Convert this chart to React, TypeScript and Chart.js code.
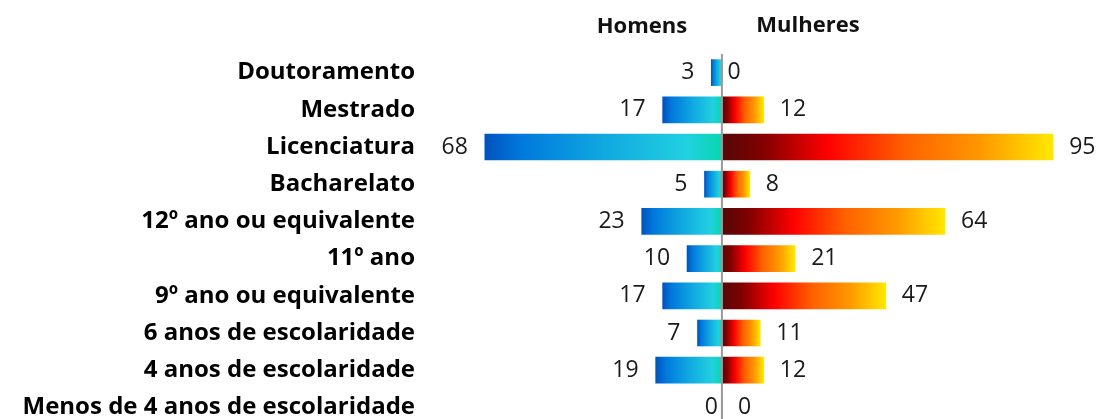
import React, { useEffect, useRef } from "react";
import { Chart, registerables } from "chart.js";

Chart.register(...registerables);

const categories = [
  "Doutoramento",
  "Mestrado",
  "Licenciatura",
  "Bacharelato",
  "12º ano ou equivalente",
  "11º ano",
  "9º ano ou equivalente",
  "6 anos de escolaridade",
  "4 anos de escolaridade",
  "Menos de 4 anos de escolaridade",
];
const homens = [3, 17, 68, 5, 23, 10, 17, 7, 19, 0];
const mulheres = [0, 12, 95, 8, 64, 21, 47, 11, 12, 0];
const seriesNames = ["Homens", "Mulheres"];

const FONT = "'Open Sans', 'DejaVu Sans', sans-serif";

const menStops: [number, string][] = [
  [0, "#0052bd"],
  [0.15, "#0078dc"],
  [0.5, "#10a8e0"],
  [0.85, "#22d0e0"],
  [1, "#08d6ae"],
];
const womenStops: [number, string][] = [
  [0, "#550808"],
  [0.12, "#800000"],
  [0.32, "#ff0000"],
  [0.55, "#ff6000"],
  [0.78, "#ff9800"],
  [1, "#ffe800"],
];

function gradientFor(stops: [number, string][], isMen: boolean) {
  return (c: any) => {
    if (c.type !== "data") return stops[0][1];
    const chart = c.chart;
    const xs = chart.scales && chart.scales.x;
    if (!xs || !chart.chartArea) return stops[0][1];
    const v = c.raw as number;
    if (!v) return stops[0][1];
    const x0 = xs.getPixelForValue(0);
    const x1 = xs.getPixelForValue(v);
    const g = isMen
      ? chart.ctx.createLinearGradient(x1, 0, x0, 0)
      : chart.ctx.createLinearGradient(x0, 0, x1, 0);
    stops.forEach(([o, col]) => g.addColorStop(o, col));
    return g;
  };
}

const overlayPlugin = {
  id: "overlay",
  afterDatasetsDraw(chart: any) {
    const ctx = chart.ctx;
    const xs = chart.scales.x;
    const area = chart.chartArea;
    const x0 = xs.getPixelForValue(0);
    ctx.save();
    // center axis line
    ctx.strokeStyle = "#9a9a9a";
    ctx.lineWidth = 2;
    ctx.beginPath();
    ctx.moveTo(x0, area.top);
    ctx.lineTo(x0, area.bottom);
    ctx.stroke();
    // value labels
    ctx.font = `23px ${FONT}`;
    ctx.fillStyle = "#1a1a1a";
    ctx.textBaseline = "middle";
    [homens, mulheres].forEach((arr, di) => {
      const meta = chart.getDatasetMeta(di);
      meta.data.forEach((bar: any, i: number) => {
        const v = arr[i];
        if (di === 0) {
          ctx.textAlign = "right";
          ctx.fillText(String(v), bar.x - (v === 0 ? 4 : 17), bar.y);
        } else {
          ctx.textAlign = "left";
          ctx.fillText(String(v), bar.x + 16, bar.y);
        }
      });
    });
    // headers
    ctx.font = `bold 22px ${FONT}`;
    ctx.fillStyle = "#111";
    ctx.textAlign = "center";
    ctx.textBaseline = "alphabetic";
    ctx.fillText(seriesNames[0], 642, 33);
    ctx.fillText(seriesNames[1], 808, 32);
    ctx.restore();
  },
};

export default function App() {
  const ref = useRef<HTMLCanvasElement>(null);
  useEffect(() => {
    if (!ref.current) return;
    const chart = new Chart(ref.current, {
      type: "bar",
      data: {
        labels: categories,
        datasets: [
          {
            label: seriesNames[0],
            data: homens.map((v) => -v),
            backgroundColor: gradientFor(menStops, true) as any,
            borderWidth: 0,
            barThickness: 26,
          },
          {
            label: seriesNames[1],
            data: mulheres,
            backgroundColor: gradientFor(womenStops, false) as any,
            borderWidth: 0,
            barThickness: 26,
          },
        ],
      },
      options: {
        indexAxis: "y",
        responsive: false,
        animation: false,
        layout: { autoPadding: false, padding: { top: 54, bottom: 4, right: 11, left: 0 } },
        plugins: { legend: { display: false }, tooltip: { enabled: false }, title: { display: false } },
        scales: {
          x: {
            stacked: true,
            min: -80,
            max: 105,
            display: false,
            grid: { display: false },
          },
          y: {
            stacked: true,
            grid: { display: false },
            border: { display: false },
            ticks: {
              padding: 20,
              color: "#000",
              autoSkip: false,
              font: { family: FONT, size: 24, weight: "bold" },
            },
            afterFit(scale: any) {
              scale.width = 443;
              scale.paddingTop = 0;
              scale.paddingBottom = 0;
            },
          },
        },
      },
      plugins: [overlayPlugin],
    });
    return () => chart.destroy();
  }, []);
  return (
    <div style={{ position: "fixed", left: 0, top: 0, width: 1099, height: 419, overflow: "hidden", background: "#fff" }}>
      <canvas ref={ref} width={1099} height={430} style={{ display: "block" }} />
    </div>
  );
}
